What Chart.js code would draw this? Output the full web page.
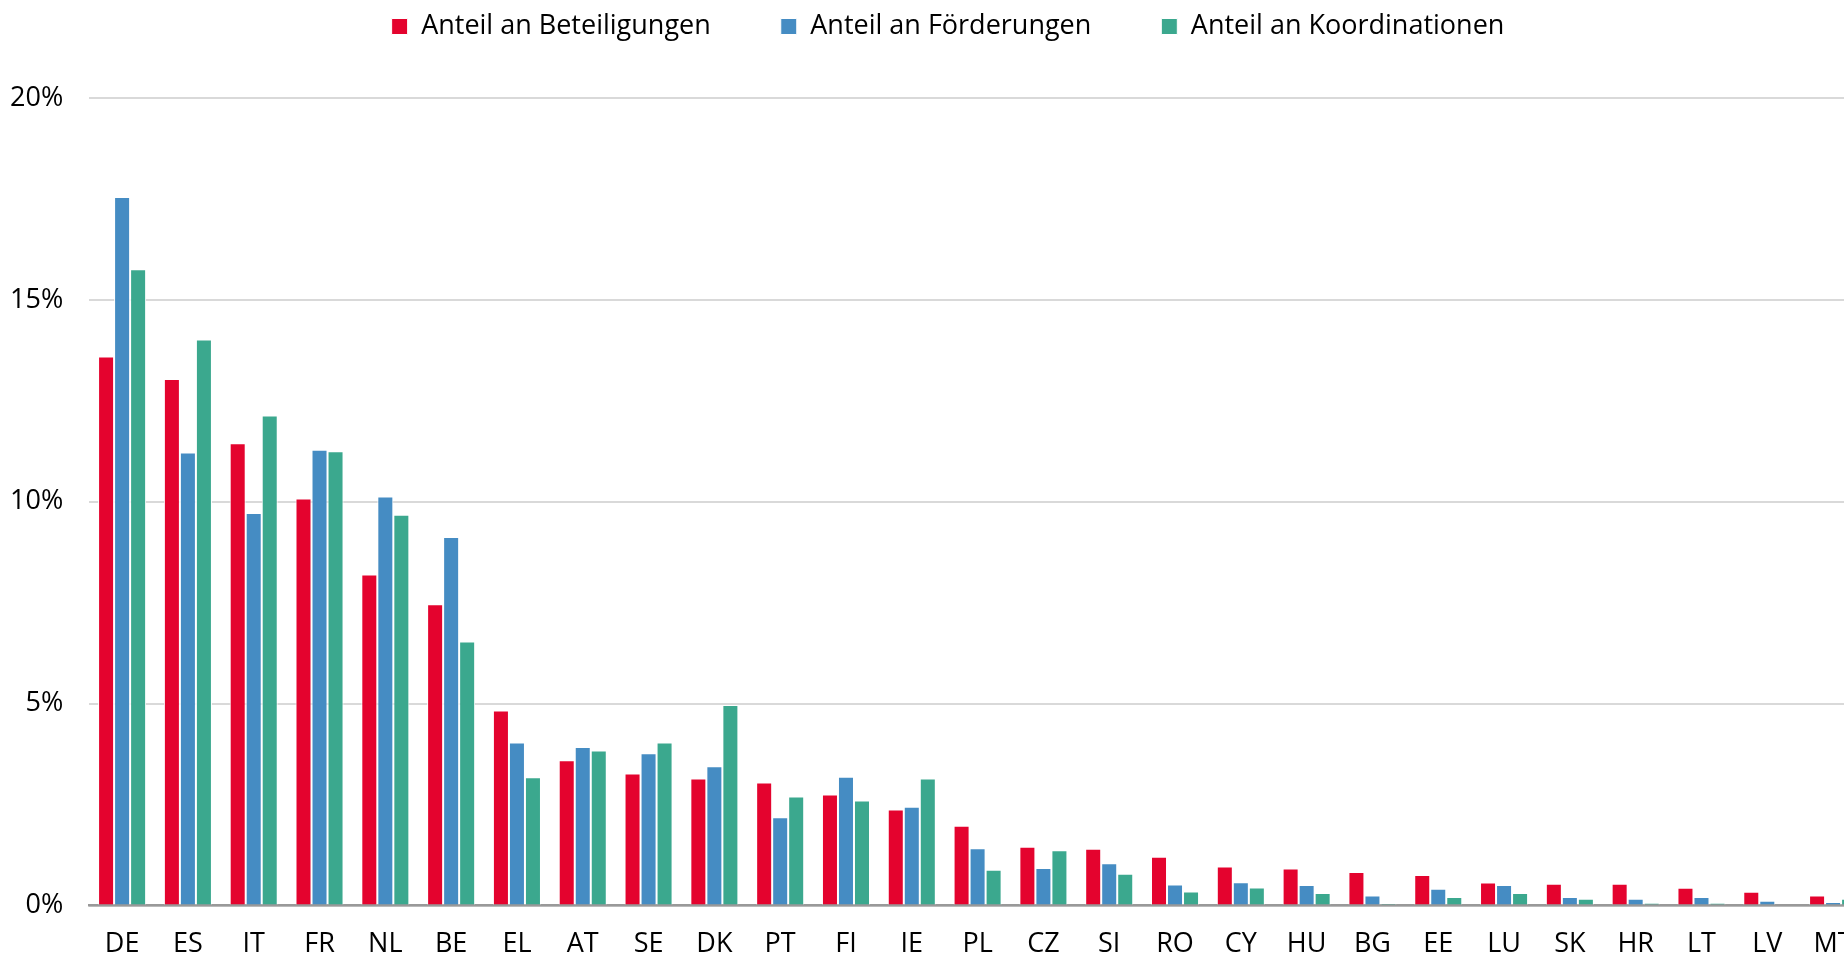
<!DOCTYPE html>
<html lang="de">
<head>
<meta charset="utf-8">
<title>Anteile nach Ländern</title>
<script src="https://cdn.jsdelivr.net/npm/chart.js@4.4.1/dist/chart.umd.min.js"></script>
<style>
  html, body { margin: 0; padding: 0; background: #fff; overflow: hidden; }
  #wrap { position: absolute; left: 0; top: 0; width: 1900px; height: 954px; }
</style>
</head>
<body>
<div id="wrap"><canvas id="shareChart"></canvas></div>
<script>
const countries = ['DE', 'ES', 'IT', 'FR', 'NL', 'BE', 'EL', 'AT', 'SE', 'DK', 'PT', 'FI', 'IE', 'PL',
                   'CZ', 'SI', 'RO', 'CY', 'HU', 'BG', 'EE', 'LU', 'SK', 'HR', 'LT', 'LV', 'MT'];

// shares in percent
const beteiligungen = [13.60, 13.04, 11.45, 10.08, 8.20, 7.46, 4.83, 3.60, 3.27, 3.15, 3.05, 2.75, 2.38, 1.98,
                       1.46, 1.41, 1.21, 0.97, 0.92, 0.83, 0.76, 0.57, 0.54, 0.54, 0.44, 0.34, 0.25];
const foerderungen = [17.55, 11.22, 9.72, 11.29, 10.13, 9.13, 4.04, 3.93, 3.77, 3.45, 2.19, 3.19, 2.45, 1.42,
                      0.93, 1.05, 0.52, 0.58, 0.51, 0.25, 0.42, 0.51, 0.21, 0.17, 0.21, 0.12, 0.09];
const koordinationen = [15.76, 14.02, 12.14, 11.25, 9.68, 6.54, 3.18, 3.84, 4.04, 4.97, 2.70, 2.60, 3.15, 0.89,
                        1.37, 0.79, 0.35, 0.45, 0.31, 0.05, 0.21, 0.31, 0.17, 0.07, 0.07, 0.00, 0.17];

const yTicks = [0, 5, 10, 15, 20];

Chart.defaults.font.family = '"Open Sans", Lato, sans-serif';
Chart.defaults.font.size = 27;
Chart.defaults.color = '#000';

// more room below the legend, and nudge it a bit to the right
const legendPlacement = {
    id: 'legendPlacement',
    beforeInit(chart) {
        const fit = chart.legend.fit;
        chart.legend.fit = function () {
            fit.bind(chart.legend)();
            this.height += 48;
        };
    },
    afterLayout(chart) {
        chart.legend.left += 23;
        chart.legend.right += 23;
    }
};

const makeSet = (label, data, color) => ({
    label: label,
    data: data,
    backgroundColor: color,
    borderColor: '#ffffff',
    borderWidth: 1,
    borderSkipped: 'start',
    categoryPercentage: 0.73,
    barPercentage: 1.0
});

new Chart(document.getElementById('shareChart').getContext('2d'), {
    type: 'bar',
    data: {
        labels: countries,
        datasets: [
            makeSet('Anteil an Beteiligungen', beteiligungen, '#e4032e'),
            makeSet('Anteil an Förderungen', foerderungen, '#458cc3'),
            makeSet('Anteil an Koordinationen', koordinationen, '#3ba88e')
        ]
    },
    plugins: [legendPlacement],
    options: {
        responsive: true,
        maintainAspectRatio: false,
        animation: false,
        layout: { padding: { top: -57, right: 34, bottom: -30, left: -16 } },
        plugins: {
            legend: {
                position: 'top',
                labels: { boxWidth: 16, boxHeight: 16, padding: 70, color: '#000' }
            },
            tooltip: { enabled: false }
        },
        scales: {
            x: {
                grid: { display: false, drawTicks: false },
                border: { display: true, color: '#999999', width: 2.5 },
                ticks: { padding: 23, maxRotation: 0, autoSkip: false }
            },
            y: {
                min: 0,
                max: 20,
                afterBuildTicks: axis => { axis.ticks = yTicks.map(v => ({ value: v })); },
                grid: { color: '#d9d9d9', lineWidth: 2, drawTicks: false },
                border: { display: false },
                ticks: { padding: 26, callback: v => v + '%' }
            }
        }
    }
});
</script>
</body>
</html>
